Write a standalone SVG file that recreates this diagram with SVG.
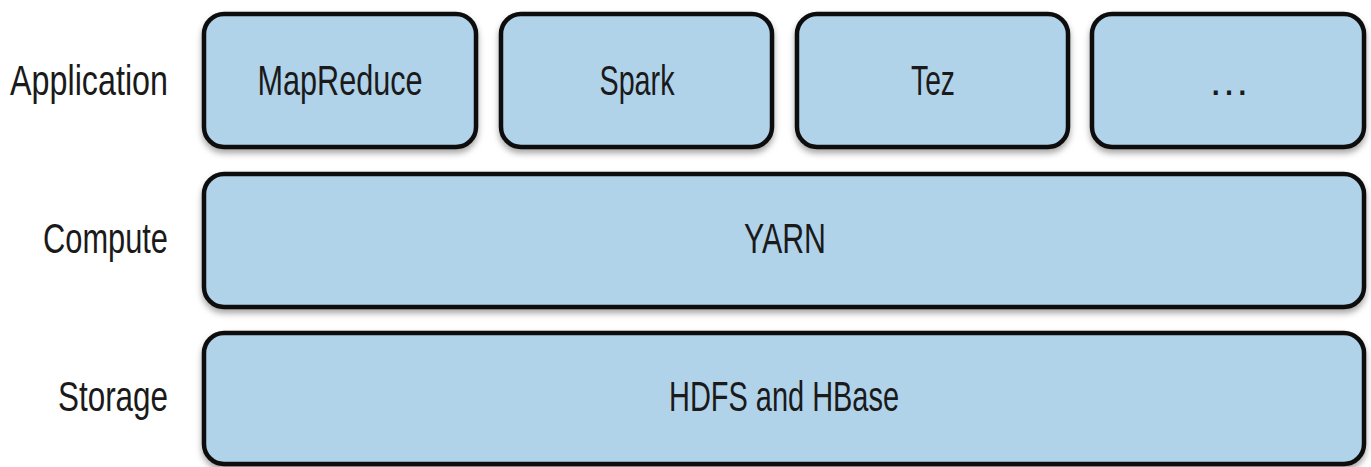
<svg xmlns="http://www.w3.org/2000/svg" width="1371" height="467" viewBox="0 0 1371 467">
<style>
.box{fill:#b0d3ea;stroke:#0d0d0d;stroke-width:4.5;filter:url(#sh)}
text{font-family:"Liberation Sans",Arial,sans-serif;font-size:42px;fill:#1a1a1a}
.lab{text-anchor:end}
.c{text-anchor:middle}
</style>
<defs>
<filter id="sh" x="-5%" y="-10%" width="110%" height="130%">
<feDropShadow dx="0" dy="4" stdDeviation="3" flood-color="#000" flood-opacity="0.35"/>
</filter>
</defs>
<rect width="1371" height="467" fill="#fff"/>
<g id="labels">
<text class="lab" x="168" y="95" textLength="158" lengthAdjust="spacingAndGlyphs">Application</text>
<text class="lab" x="168" y="253" textLength="125" lengthAdjust="spacingAndGlyphs">Compute</text>
<text class="lab" x="168" y="411" textLength="110" lengthAdjust="spacingAndGlyphs">Storage</text>
</g>
<g id="mapreduce"><rect class="box" x="204" y="14" width="272" height="133" rx="20"/><text class="c" x="340" y="95" textLength="165" lengthAdjust="spacingAndGlyphs">MapReduce</text></g>
<g id="spark"><rect class="box" x="501" y="14" width="271" height="133" rx="20"/><text class="c" x="637" y="95" textLength="75" lengthAdjust="spacingAndGlyphs">Spark</text></g>
<g id="tez"><rect class="box" x="797" y="14" width="271" height="133" rx="20"/><text class="c" x="933" y="95" textLength="44" lengthAdjust="spacingAndGlyphs">Tez</text></g>
<g id="more"><rect class="box" x="1092" y="14" width="272" height="133" rx="20"/><text class="c" x="1229" y="95" textLength="44" lengthAdjust="spacing">…</text></g>
<g id="yarn"><rect class="box" x="204" y="174" width="1160" height="133" rx="20"/><text class="c" x="785" y="253" textLength="82" lengthAdjust="spacingAndGlyphs">YARN</text></g>
<g id="hdfs"><rect class="box" x="204" y="333" width="1160" height="131" rx="20"/><text class="c" x="784" y="411" textLength="230" lengthAdjust="spacingAndGlyphs">HDFS and HBase</text></g>
<g id="connectors"/>
</svg>
